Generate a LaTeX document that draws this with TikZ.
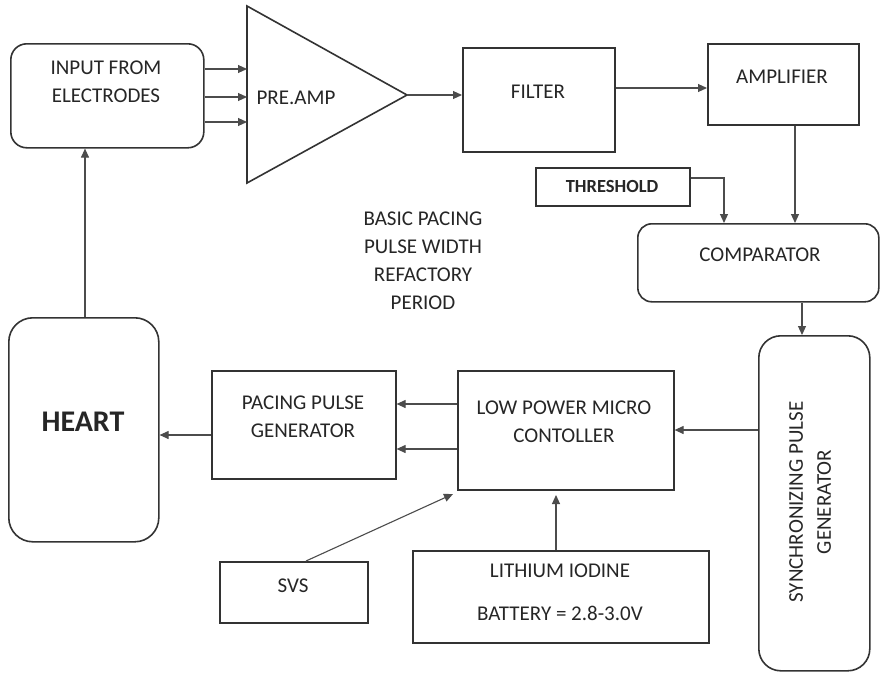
\documentclass[tikz,border=0pt]{standalone}
\usepackage{fontspec}
\setmainfont{Carlito}
\usetikzlibrary{arrows.meta}
\begin{document}
\begin{tikzpicture}[x=1pt,y=-1pt,
  box/.style={draw=black!80,line width=1.6pt,inner sep=0pt,align=center},
  rbox/.style={box,rounded corners=16pt},
  conn/.style={draw=black!70,line width=1.1pt,-{Triangle[length=9pt,width=8pt]}},
  lbl/.style={font=\fontsize{21}{28}\selectfont,align=center,text=black!85}]
\useasboundingbox[fill=white] (0,0) rectangle (880,672);

% boxes
\node[rbox,minimum width=193pt,minimum height=104pt,anchor=north west] (inp) at (10,43) {};
\node[lbl] (inpT) at (106,82) {INPUT FROM\\ELECTRODES};

\draw[draw=black!80,line width=1.6pt] (247,6) coordinate (pa1) -- (407,95) coordinate (paA) -- (247,183) coordinate (pa2) -- cycle;
\node[lbl] (pre) at (296,98) {PRE.AMP};

\node[box,minimum width=152pt,minimum height=104pt,anchor=north west] (fil) at (462,47) {};
\node[lbl] (filT) at (538,92) {FILTER};

\node[box,minimum width=151pt,minimum height=81pt,anchor=north west] (amp) at (707,43) {};
\node[lbl] (ampT) at (782,77) {AMPLIFIER};

\node[box,minimum width=154pt,minimum height=38pt,anchor=north west] (thr) at (535,167) {};
\node[lbl,font=\fontsize{18.5}{22}\selectfont\bfseries] (thrT) at (612,186) {THRESHOLD};

\node[rbox,minimum width=241pt,minimum height=78pt,anchor=north west,rounded corners=14pt] (cmp) at (637,223) {};
\node[lbl] (cmpT) at (760,255) {COMPARATOR};

\node[rbox,minimum width=111pt,minimum height=335pt,anchor=north west,rounded corners=22pt] (syn) at (758,335) {};
\node[lbl,rotate=90] (synT) at (810,502) {SYNCHRONIZING PULSE\\GENERATOR};

\node[box,minimum width=216pt,minimum height=119pt,anchor=north west] (mic) at (457,370) {};
\node[lbl] (micT) at (564,422) {LOW POWER MICRO\\CONTOLLER};

\node[box,minimum width=184pt,minimum height=108pt,anchor=north west] (pac) at (211,370) {};
\node[lbl] (pacT) at (303,417) {PACING PULSE\\GENERATOR};

\node[rbox,minimum width=150pt,minimum height=224pt,anchor=north west,rounded corners=24pt] (hrt) at (8,317) {};
\node[lbl,font=\fontsize{30}{32}\selectfont\bfseries] (hrtT) at (83,422) {HEART};

\node[box,minimum width=148pt,minimum height=61pt,anchor=north west] (svs) at (219,561) {};
\node[lbl] (svsT) at (293,586) {SVS};

\node[box,minimum width=296pt,minimum height=92pt,anchor=north west] (bat) at (412,550) {};
\node[lbl] (batT1) at (560,571) {LITHIUM IODINE};
\node[lbl] (batT2) at (560,613) {BATTERY = 2.8-3.0V};

\node[lbl] (note) at (423,261) {BASIC PACING\\PULSE WIDTH\\REFACTORY\\PERIOD};

% connectors
\draw[conn] (inp.east |- 0,69) -- (pa1 |- 0,69);
\draw[conn] (inp.east |- 0,97) -- (pa1 |- 0,97);
\draw[conn] (inp.east |- 0,122) -- (pa1 |- 0,122);
\draw[conn] (paA) -- (paA -| fil.west);
\draw[conn] (fil.east |- 0,88) -- (amp.west |- 0,88);
\draw[conn] (795,0 |- amp.south) -- (795,0 |- cmp.north);
\draw[conn] (thr.east |- 0,178) -| (724,0 |- cmp.north);
\draw[conn] (802,0 |- cmp.south) -- (802,0 |- syn.north);
\draw[conn] (syn.west |- 0,430) -- (mic.east |- 0,430);
\draw[conn] (mic.west |- 0,404) -- (pac.east |- 0,404);
\draw[conn] (mic.west |- 0,449) -- (pac.east |- 0,449);
\draw[conn] (pac.west |- 0,435) -- (hrt.east |- 0,435);
\draw[conn] (85,0 |- hrt.north) -- (85,0 |- inp.south);
\coordinate (svsend) at (453,494);
\draw[conn] (306,0 |- svs.north) -- (svsend);
\draw[conn] (556,0 |- bat.north) -- (556,495);
\end{tikzpicture}
\end{document}
